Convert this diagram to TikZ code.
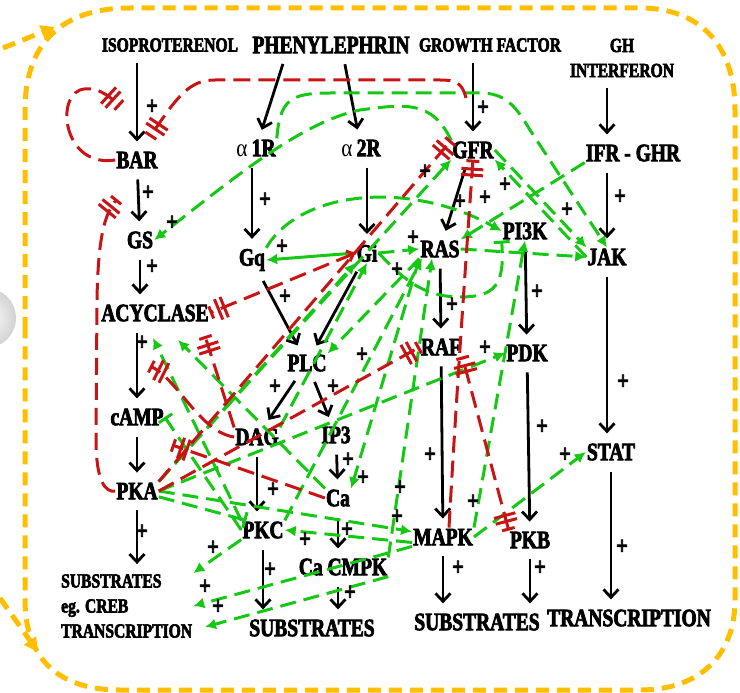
\documentclass[tikz,border=0pt]{standalone}
\usepackage{fontspec}
\setmainfont{Liberation Serif Bold}[FakeStretch=0.78, FakeBold=3]
\newfontfamily\grk{Liberation Serif}[FakeStretch=0.85]
\usetikzlibrary{positioning,arrows.meta}

\definecolor{actgreen}{RGB}{20,200,20}
\definecolor{inhred}{RGB}{200,20,20}
\definecolor{wallorange}{RGB}{255,190,0}

\tikzset{
  bars/.tip={Bar[width=22pt,sep=3pt]Bar[width=22pt,sep=5pt]Bar[width=13pt]},
  tbar/.tip={Bar[width=16pt]}
}

\begin{document}
\begin{tikzpicture}[x=1pt, y=-1pt,
  mol/.style={inner sep=1pt, font=\fontsize{25}{25}\selectfont},
  lab/.style={inner sep=1pt, font=\fontsize{20}{25}\selectfont},
  plus/.style={inner sep=0pt, font=\fontsize{26}{26}\selectfont},
  act/.style={-{Straight Barb[length=8pt,width=15pt]}, line width=2.8pt,
              shorten <=10pt, shorten >=9pt},
  stim/.style={-{Latex[length=11pt,width=11pt]}, actgreen, line width=3pt,
               dash pattern=on 16pt off 8pt},
  stimsolid/.style={-{Latex[length=11pt,width=11pt]}, actgreen, line width=3pt},
  ginh/.style={-{tbar}, actgreen, line width=3pt, dash pattern=on 16pt off 8pt},
  inh/.style={-{bars}, inhred, line width=3pt, dash pattern=on 17pt off 8pt},
  cellwall/.style={wallorange, line width=5pt, dash pattern=on 13pt off 8pt}
]
\useasboundingbox (0,0) rectangle (740,693);

% cell border
\shade[inner color=white, outer color=gray!35] (-14,318) circle (30pt);
\draw[cellwall] (25,330) -- (25,110) .. controls (25,45) and (60,8) .. (130,8) -- (640,8)
  .. controls (700,8) and (735,45) .. (735,110) -- (735,600)
  .. controls (735,655) and (700,690) .. (640,690) -- (120,690)
  .. controls (60,690) and (25,660) .. (25,600) -- cycle;
\coordinate (fa1) at (3,48);
\coordinate (fa2) at (55,27);
\coordinate (fb1) at (0,598);
\coordinate (fb2) at (38,652);
\draw[cellwall, -{Triangle[length=14pt,width=14pt]}] (fa1) -- (fa2);
\draw[cellwall, -{Triangle[length=14pt,width=14pt]}] (fb1) -- (fb2);

% ligands
\node[lab] (iso) at (170,45) {ISOPROTERENOL};
\node[mol] (phe) at (331,45) {PHENYLEPHRIN};
\node[lab] (gf) at (490,45) {GROWTH FACTOR};
\node[lab, align=center] (gh) at (622,58) {GH\\INTERFERON};

% receptors and messengers
\node[mol] (bar) at (137,160) {BAR};
\node[mol] (a1r) at (256,148) {{\grk α}\,1R};
\node[mol] (a2r) at (361,148) {{\grk α}\,2R};
\node[mol] (gfr) at (473,150) {GFR};
\node[mol] (ifr) at (633,153) {IFR - GHR};
\node[mol] (gs) at (140,240) {GS};
\node[mol] (gq) at (252,260) {Gq};
\node[mol] (gi) at (367,253) {Gi};
\node[mol] (ras) at (440,249) {RAS};
\node[mol] (pik) at (525,231) {PI3K};
\node[mol] (jak) at (607,257) {JAK};
\node[mol] (acy) at (155,313) {ACYCLASE};
\node[mol] (plc) at (307,363) {PLC};
\node[mol] (raf) at (441,347) {RAF};
\node[mol] (pdk) at (527,353) {PDK};
\node[mol] (camp) at (137,417) {cAMP};
\node[mol] (dag) at (257,437) {DAG};
\node[mol] (ip) at (336,435) {IP3};
\node[mol] (pka) at (137,491) {PKA};
\node[mol] (ca) at (338,498) {Ca};
\node[mol] (stat) at (611,452) {STAT};
\node[mol] (pkc) at (263,530) {PKC};
\node[mol] (mapk) at (443,537) {MAPK};
\node[mol] (pkb) at (530,540) {PKB};
\node[mol] (cmpk) at (343,567) {Ca CMPK};

% outputs
\node[lab, align=left, anchor=west] (subl) at (60,606) {SUBSTRATES\\eg. CREB\\TRANSCRIPTION};
\node[mol] (subm) at (312,628) {SUBSTRATES};
\node[mol] (subr) at (477,622) {SUBSTRATES};
\node[mol] (trr) at (629,618) {TRANSCRIPTION};

% main cascade
\draw[act] (bar |- iso.south) -- (bar);
\draw[act] ([xshift=-45pt]phe.south) -- (a1r);
\draw[act] ([xshift=12pt]phe.south) -- (a2r);
\draw[act] (gfr |- gf.south) -- (gfr);
\draw[act] (jak |- gh.south) -- (jak |- ifr.north);
\draw[act] (gq |- a1r.south) -- (gq);
\draw[act] (gi |- a2r.south) -- (gi);
\draw[act] ([xshift=-5pt]gfr.south) -- (ras);
\draw[act] (jak |- ifr.south) -- (jak);
\draw[act] (gs) -- (gs |- acy.north);
\draw[act] (camp |- acy.south) -- (camp);
\draw[act] (jak) -- (jak |- stat.north);
\draw[act] (dag) -- (dag |- pkc.north);
\draw[act] (ca) -- (ca |- cmpk.north);
\draw[act] (pka) -- (pka |- subl.north);
\draw[act] (pkc) -- (pkc |- subm.north);
\draw[act] (cmpk.south -| ca) -- (ca |- subm.north);
\draw[act] (mapk) -- (mapk |- subr.north);
\draw[act] (pkb) -- (pkb |- subr.north);
\draw[act] (stat) -- (stat |- trr.north);
\foreach \i/\j in {bar/gs, gq/plc, gi/plc, ras/raf, pik/pdk, plc/dag, plc/ip,
                   camp/pka, ip/ca, raf/mapk, pdk/pkb} {
  \draw[act] (\i) -- (\j);
}

% free ends on arrows
\coordinate (isobar) at (120,106);
\coordinate (isobar2) at (150,137);
\coordinate (bargs) at (117,199);
\coordinate (gfa) at (466,98);
\coordinate (acyb) at (205,336);
\coordinate (campb) at (150,366);
\coordinate (pkab) at (172,445);
\coordinate (ac1) at (153,338);
\coordinate (ac2) at (178,340);
\coordinate (trl) at (205,627);

% cross talk, stimulation
\draw[stim] (gfr.north west) .. controls (432,100) and (405,104) .. (360,110)
  .. controls (300,122) and (225,185) .. (gs.east);
\draw[stim] (a1r.north east) .. controls (280,100) and (290,93) .. (330,93) -- (480,93)
  .. controls (505,93) and (515,105) .. (530,130) -- (jak.north);
\draw[stim] (gfr.east) -- (jak.north west);
\draw[stim] (jak.west) -- (gfr.south east);
\draw[stim] (ifr.south west) -- (ras.north east);
\draw[stim] (gq.north east) .. controls (300,190) and (410,180) .. (pik.west);
\draw[stim] (ras.east) -- (jak.west);
\draw[stimsolid] (gi.west) -- (gq.east);
\draw[stim] (gi.east) -- (ras.west);
\draw[stim] (mapk.north east) -- (pik.south);
\draw[stim] (pka.east) -- (pdk.west);
\draw[stim] (mapk.east) -- (stat.west);
\draw[stim] (mapk.south west) -- (subl.east);
\draw[stim] (cmpk.south east) -- (trl);
\draw[stim] (pkc.south west) -- (subl.north east);
\draw[stim] (pkc.north west) -- (ac1);
\draw[stim] (ca.north west) -- (ac2);
\draw[stim] (pka.east) -- (mapk.170);
\draw[stim] (mapk.190) -- (pkc.east);
\draw[stim] (ras.south west) -- (ca.north east);
\draw[stim] (ras.south west) -- (plc.north east);
\draw[stim] (cmpk.north east) -- ([xshift=-8pt]ras.south);
\draw[stim] (pkc.north east) -- ([xshift=-18pt]ras.south);
\draw[stim] (dag.north east) -- (gi.south);
\draw[stim] (pka.north east) -- (gfr.south west);
\draw[stim] (pka.north east) -- (gi.south west);

% cross talk, green inhibition
\draw[ginh] (gi.east) .. controls (400,275) and (420,297) .. (460,297)
  .. controls (495,297) and (505,285) .. (pik.south west);
\draw[ginh] (pka.-15) -- (pkc.150);
\draw[ginh] (pkc.west) -- (camp.east);

% cross talk, red inhibition
\draw[inh] (bar.west) .. controls (65,168) and (55,100) .. (80,90)
  .. controls (95,85) and (108,95) .. (isobar);
\draw[inh] (gfa) .. controls (462,82) and (455,80) .. (440,80) -- (215,80)
  .. controls (190,80) and (178,95) .. (isobar2);
\draw[inh] (pka.west) .. controls (105,493) and (96,480) .. (96,440) -- (97,300)
  .. controls (98,240) and (104,215) .. (bargs);
\draw[inh, {Straight Barb[length=6pt,width=11pt]}-{bars}] (gi.west) -- (acy.east);
\draw[inh] (pka.north east) -- (gfr.north west);
\draw[inh] (pka.east) -- (raf.west);
\draw[inh] (ca.west) -- (pkab);
\draw[inh] (dag.north west) -- (acyb);
\draw[inh] (dag.west) .. controls (200,432) and (178,380) .. (campb);
\draw[inh, {bars}-{bars}] (pkb.north west) -- (raf.south east);
\draw[inh] ([xshift=6pt]mapk.north) .. controls (455,420) and (463,300) .. (gfr.south);

% signs
\foreach \x/\y [count=\k] in {152/107, 148/193, 172/223, 152/267, 265/200, 282/247,
    285/297, 142/343, 483/108, 620/197, 425/172, 460/202, 485/198, 505/185,
    567/210, 413/238, 397/270, 537/292, 452/305, 142/532, 213/548, 205/587,
    218/607, 270/570, 273/490, 305/540, 347/530, 350/593, 275/387, 333/387,
    362/355, 348/460, 363/478, 400/488, 397/517, 430/455, 485/348, 623/382,
    542/427, 565/455, 473/502, 458/568, 540/568, 622/547} {
  \node[plus] (p\k) at (\x,\y) {+};
}

\end{tikzpicture}
\end{document}
